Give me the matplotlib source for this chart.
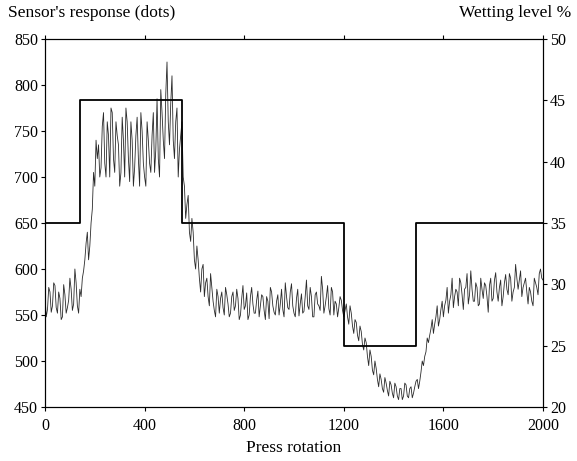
import matplotlib
matplotlib.use("Agg")
import matplotlib.pyplot as plt

rotation = list(range(0, 2001, 10))
response = [
    570, 556, 575, 560, 582, 552, 568, 548, 572, 558, 590, 555, 600, 560, 578,
    590, 610, 640, 625, 665, 690, 720, 700, 755, 715, 760, 700, 770, 705, 745,
    690, 765, 700, 760, 695, 740, 710, 765, 690, 750, 700, 760, 715, 745, 705,
    785, 700, 770, 720, 825, 735, 810, 720, 775, 730, 760, 690, 670, 640, 655,
    610, 625, 590, 600, 570, 590, 560, 580, 555, 578, 552,
    575, 550, 572, 548, 570, 555, 578, 545, 568, 556, 574, 550, 580, 552, 566,
    548, 572, 555, 570, 546, 575, 553, 565, 550, 578, 548, 570, 556, 584, 552,
    568, 549, 573, 554, 588, 556, 570, 548, 575, 560, 592, 552, 570, 557, 580,
    550, 562, 558, 566,
    548, 562, 540, 552, 530, 542, 522, 532, 512, 520, 495, 505, 485, 492, 472,
    480, 466, 476, 462, 474, 460, 472, 458, 470, 462, 474, 460, 472, 465, 478,
    470, 488, 495, 510, 520, 535, 530, 548, 538, 556, 548, 566, 552, 572, 558,
    578, 560, 585, 556, 580, 562, 598, 565, 585, 560, 590, 568, 582, 553, 590,
    568, 596, 565, 588, 570, 594, 572, 590, 575, 605, 578, 598, 580, 590, 562,
    575, 560, 585, 572, 600, 588,
]

# Intermediate samples at 5, 15, ..., 1995 rotations
rotation_mid = list(range(5, 2000, 10))
response_mid = [
    548, 580, 553, 585, 558, 575, 545, 583, 552, 566, 578, 562, 585, 552,
    570, 598, 628, 610, 650, 705, 740, 735, 710, 770, 700, 745, 775, 720, 760,
    735, 705, 740, 775, 720, 760, 690, 745, 720, 770, 715, 690, 740, 705, 770,
    730, 720, 795, 740, 790, 760, 780, 740, 760, 700, 745,
    700, 655, 680, 630, 640, 600, 610, 575, 605, 585, 570, 595, 565, 548, 570,
    568, 558, 580, 562, 552, 575, 560, 568, 550, 582, 560, 545, 570, 562, 552,
    576, 560, 570, 545, 565, 580, 560, 550, 572, 562, 556, 585, 558, 575, 560,
    548, 578, 562, 552, 570, 560, 580, 548, 572, 562, 555, 578, 560, 582, 550,
    575, 565, 548, 570, 555,
    555, 548, 560, 538, 545, 528, 538, 518, 525, 505, 512, 490, 500, 480, 486,
    470, 482, 468, 478, 465, 476, 462, 470, 458, 476, 462, 470, 460, 472, 480,
    478, 500, 505, 525, 528, 545, 540, 560, 545, 565, 560, 580, 565, 590, 570,
    575, 590, 572, 578, 595, 572, 578, 565, 580, 562, 578, 585, 570, 582, 565,
    588, 575, 580, 560, 585, 578, 595, 565, 580, 590, 588, 570, 585, 575, 580,
    565, 590, 580, 595, 590,
]

# Wetting level steps
step_x = [0, 140, 550, 1200, 1490, 2000]
step_level = [35, 45, 35, 25, 35, 35]

x_ticks = [0, 400, 800, 1200, 1600, 2000]
left_ticks = [450, 500, 550, 600, 650, 700, 750, 800, 850]
right_ticks = [20, 25, 30, 35, 40, 45, 50]

plt.rcParams['font.family'] = ['Liberation Serif', 'DejaVu Serif']

fig = plt.figure(figsize=(5.77, 4.61), dpi=100)
ax = fig.add_axes([45/577, 1-407/461, (543-45)/577, (407-39)/461])
ax2 = ax.twinx()

pts = sorted(list(zip(rotation, response)) + list(zip(rotation_mid, response_mid)))
xs = [p[0] for p in pts]
ys = [p[1] for p in pts]
ax.plot(xs, ys, color='#2a2a2a', lw=0.6)
ax2.step(step_x, step_level, where='post', color='black', lw=1.3)

ax.set_xlim(0, 2000)
ax.set_ylim(450, 850)
ax2.set_ylim(20, 50)
ax.set_xticks(x_ticks)
ax.set_yticks(left_ticks)
ax2.set_yticks(right_ticks)

for a in (ax, ax2):
    a.tick_params(direction='out', length=3, width=0.8, labelsize=11.5, pad=2)
    for s in a.spines.values():
        s.set_linewidth(0.8)
ax.tick_params(axis='x', top=True, pad=5)

ax.set_xlabel('Press rotation', fontsize=12.5, labelpad=4)
fig.text(8/577, 1-13/461, "Sensor's response (dots)", fontsize=12.5, va='center', ha='left')
fig.text(571/577, 1-13/461, "Wetting level %", fontsize=12.5, va='center', ha='right')

fig.savefig('out.png', dpi=100)
